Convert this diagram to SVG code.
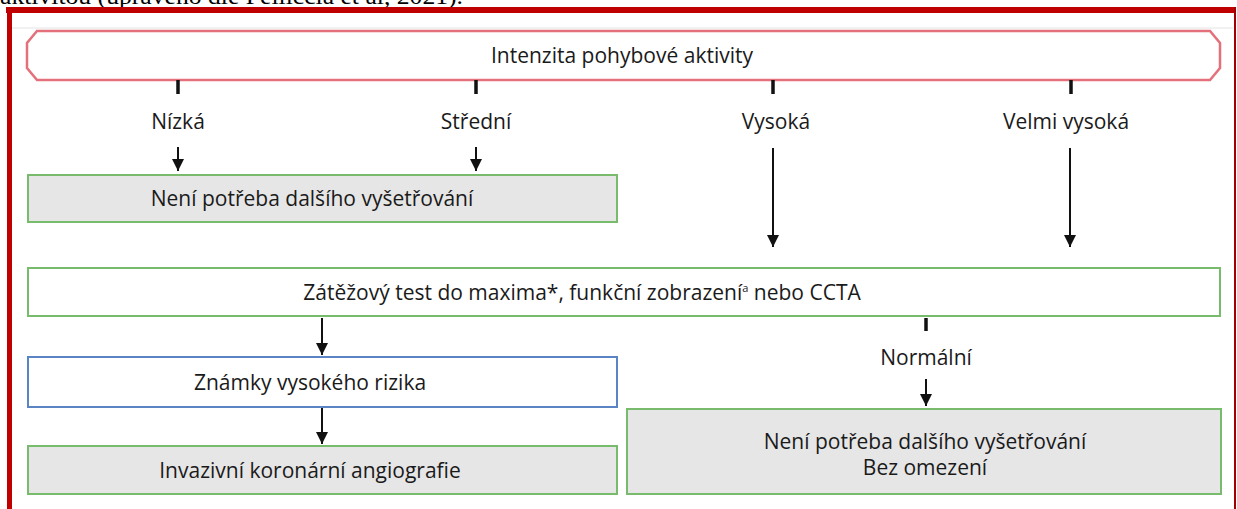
<svg xmlns="http://www.w3.org/2000/svg" width="1237" height="509" viewBox="0 0 1237 509">
<style>
.t{font-family:"Open Sans","Noto Sans",sans-serif;font-size:21px;fill:#1a1a1a;text-anchor:middle}
.g{fill:#e6e6e6;stroke:#78bb6c;stroke-width:2}
.w{fill:#fff;stroke:#78bb6c;stroke-width:2}
.c{stroke:#111;stroke-width:2;fill:none}
.k{stroke:#111;stroke-width:3.5;fill:none}
</style>
<defs>
<marker id="ah" markerWidth="12" markerHeight="12" refX="10" refY="5" orient="auto" markerUnits="userSpaceOnUse" viewBox="0 0 10 10">
<path d="M0,0 L10,5 L0,10 Z" fill="#111"/>
</marker>
</defs>
<rect width="1237" height="509" fill="#fff"/>
<text x="0" y="4" font-family="Liberation Serif,serif" font-size="24" fill="#000" textLength="463" lengthAdjust="spacingAndGlyphs">aktivitou (upraveno dle Pelliccia et al, 2021).</text>
<rect x="0" y="7" width="1237" height="502" fill="#fff"/>
<g id="frame">
<line x1="6" y1="10" x2="1236" y2="10" stroke="#c00000" stroke-width="6"/>
<line x1="9.5" y1="7" x2="9.5" y2="509" stroke="#c00000" stroke-width="5"/>
<line x1="1235" y1="7" x2="1235" y2="509" stroke="#a00000" stroke-width="2"/>
<line x1="12" y1="28" x2="1233" y2="28" stroke="#e4e4e4" stroke-width="1"/>
</g>
<g id="n-top">
<path d="M37,31 L1210,31 L1220,43 L1220,68 L1210,80 L37,80 L27,68 L27,43 Z" fill="#fff" stroke="#e0606c" stroke-width="2.5" stroke-opacity="0.9"/>
<text class="t" x="622" y="63">Intenzita pohybové aktivity</text>
</g>
<g id="n-nizka"><text class="t" x="178" y="129">Nízká</text></g>
<g id="n-stredni"><text class="t" x="476" y="129">Střední</text></g>
<g id="n-vysoka"><text class="t" x="776" y="129">Vysoká</text></g>
<g id="n-velmi"><text class="t" x="1066" y="129">Velmi vysoká</text></g>
<g id="n-neni1">
<rect class="g" x="28" y="175" width="589" height="47"/>
<text class="t" x="312" y="206">Není potřeba dalšího vyšetřování</text>
</g>
<g id="n-test">
<rect class="w" x="28" y="268" width="1192" height="48"/>
<text class="t" x="582" y="300">Zátěžový test do maxima*, funkční zobrazení<tspan font-size="11" dy="-8">a</tspan><tspan dy="8"> nebo CCTA</tspan></text>
</g>
<g id="n-normalni"><text class="t" x="926" y="365">Normální</text></g>
<g id="n-rizika">
<rect x="28" y="357" width="589" height="50" fill="#fff" stroke="#5b84c4" stroke-width="2"/>
<text class="t" x="310" y="390">Známky vysokého rizika</text>
</g>
<g id="n-ica">
<rect class="g" x="28" y="446" width="589" height="48"/>
<text class="t" x="310" y="478">Invazivní koronární angiografie</text>
</g>
<g id="n-neni2">
<rect class="g" x="627" y="409" width="594" height="85"/>
<text class="t" x="925" y="449">Není potřeba dalšího vyšetřování</text>
<text class="t" x="925" y="475">Bez omezení</text>
</g>
<g id="connectors">
<line class="k" x1="178" y1="80" x2="178" y2="94"/>
<line class="k" x1="476" y1="80" x2="476" y2="94"/>
<line class="k" x1="773" y1="80" x2="773" y2="94"/>
<line class="k" x1="1071" y1="80" x2="1071" y2="94"/>
<line class="c" x1="178" y1="147" x2="178" y2="171" marker-end="url(#ah)"/>
<line class="c" x1="476" y1="147" x2="476" y2="171" marker-end="url(#ah)"/>
<line class="c" x1="773" y1="148" x2="773" y2="247" marker-end="url(#ah)"/>
<line class="c" x1="1070" y1="148" x2="1070" y2="247" marker-end="url(#ah)"/>
<line class="c" x1="322" y1="318" x2="322" y2="355" marker-end="url(#ah)"/>
<line class="k" x1="926" y1="318" x2="926" y2="331"/>
<line class="c" x1="926" y1="379" x2="926" y2="406" marker-end="url(#ah)"/>
<line class="c" x1="322" y1="408" x2="322" y2="444" marker-end="url(#ah)"/>
</g>
</svg>
